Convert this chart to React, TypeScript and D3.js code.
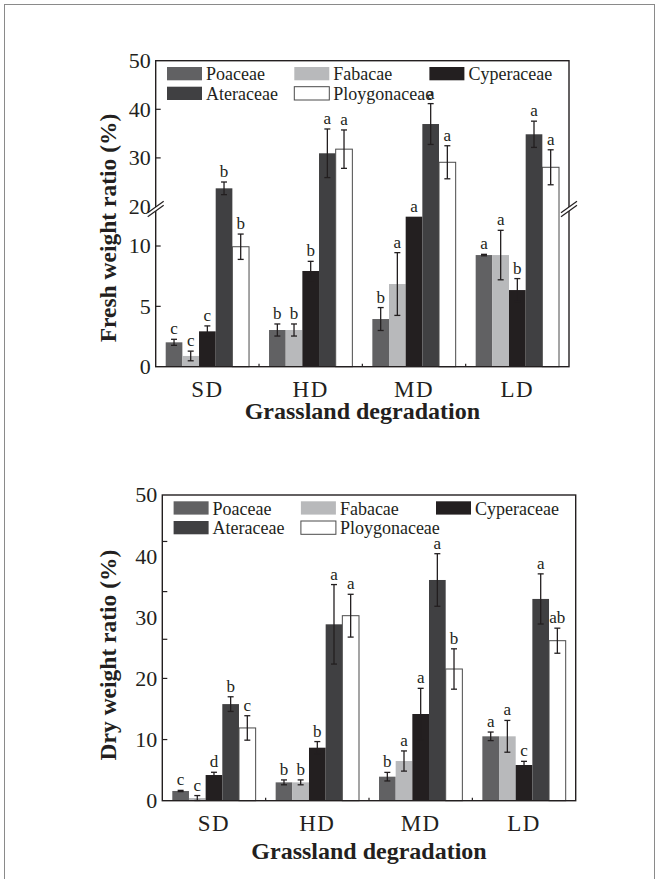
import React from "react";
import * as d3 from "d3";

const groups = ["SD", "HD", "MD", "LD"];
const families = ["Poaceae", "Fabacae", "Cyperaceae", "Ateraceae", "Ploygonaceae"];
const familyColors = ["#616163", "#b8b9bb", "#231f20", "#404042", "#ffffff"];

// Fresh weight ratio (%) — rows: families, cols: SD, HD, MD, LD
const freshMeans = [
  [2.02, 3.04, 3.95, 9.25],
  [0.89, 3.04, 6.85, 9.25],
  [2.93, 7.93, 12.43, 6.35],
  [23.74, 30.95, 36.97, 34.86],
  [9.94, 31.8, 29.1, 28.07],
];
const freshErrors = [
  [0.25, 0.5, 0.95, 0.06],
  [0.4, 0.5, 2.6, 2.05],
  [0.45, 0.8, 0, 0.95],
  [1.3, 5.0, 4.2, 2.7],
  [1.05, 3.95, 3.4, 3.6],
];
const freshLetters = [
  ["c", "b", "b", "a"],
  ["c", "b", "a", "a"],
  ["c", "b", "a", "b"],
  ["b", "a", "a", "a"],
  ["b", "a", "a", "a"],
];
const freshTickLabels = [0, 5, 10, 20, 30, 40, 50];
const freshTickMarks = [5, 10, 30, 40];

// Dry weight ratio (%)
const dryMeans = [
  [1.59, 3.0, 3.93, 10.53],
  [0.44, 3.0, 6.49, 10.53],
  [4.2, 8.67, 14.18, 5.84],
  [15.8, 28.85, 36.1, 33.0],
  [11.9, 30.26, 21.54, 26.17],
];
const dryErrors = [
  [0.1, 0.4, 0.7, 0.7],
  [0.4, 0.4, 1.65, 2.6],
  [0.45, 1.0, 4.2, 0.6],
  [1.2, 6.5, 4.3, 4.1],
  [2.0, 3.5, 3.3, 2.05],
];
const dryLetters = [
  ["c", "b", "b", "a"],
  ["c", "b", "a", "a"],
  ["d", "b", "a", "c"],
  ["b", "a", "a", "a"],
  ["c", "a", "b", "ab"],
];
const dryTickLabels = [0, 10, 20, 30, 40, 50];
const dryTickMarks = [10, 20, 26.4, 34.2, 42.4];

const FONT = "'Liberation Serif', 'Times New Roman', serif";
const INK = "#231f20";

type ChartProps = {
  left: number;
  right: number;
  top: number;
  bottom: number;
  y: d3.ScaleLinear<number, number>;
  means: number[][];
  errors: number[][];
  letters: string[][];
  tickLabels: number[];
  tickMarks: number[];
  yTitle: string;
  yTitleX: number;
  yTitleY: number;
  xTitleY: number;
  breakY?: number;
};

function Chart(p: ChartProps) {
  const x0 = d3.scaleBand<string>().domain(groups).range([p.left, p.right]).paddingInner(0).paddingOuter(0);
  const x1 = d3
    .scaleBand<string>()
    .domain(families)
    .range([0, x0.bandwidth()])
    .paddingInner(0)
    .paddingOuter(0.6);
  const bw = x1.bandwidth();
  const legendCols = [11.3, 138.6, 273.7];
  const legendRows = [6.3, 26];
  const legendItems = families.map((f, i) => ({
    f,
    i,
    col: i < 3 ? i : i - 3,
    row: i < 3 ? 0 : 1,
  }));
  const midX = (p.left + p.right) / 2;

  return (
    <g>
      {/* bars */}
      {families.map((f, fi) =>
        groups.map((g, gi) => {
          const v = p.means[fi][gi];
          const xb = (x0(g) as number) + (x1(f) as number);
          const yt = p.y(v);
          return (
            <rect
              key={f + g}
              x={xb}
              y={yt}
              width={bw}
              height={p.y(0) - yt}
              fill={familyColors[fi]}
              stroke={fi === 4 ? "#4a4a4a" : "none"}
              strokeWidth={fi === 4 ? 1 : 0}
            />
          );
        })
      )}
      {/* error bars and letters */}
      {families.map((f, fi) =>
        groups.map((g, gi) => {
          const v = p.means[fi][gi];
          const e = p.errors[fi][gi];
          const cx = (x0(g) as number) + (x1(f) as number) + bw / 2;
          const yTop = p.y(v + e);
          const yBot = p.y(Math.max(0, v - e));
          return (
            <g key={"e" + f + g}>
              {e > 0 && (
                <g stroke={INK} strokeWidth={1.3}>
                  <line x1={cx} x2={cx} y1={yTop} y2={yBot} />
                  <line x1={cx - 3} x2={cx + 3} y1={yTop} y2={yTop} />
                  <line x1={cx - 3} x2={cx + 3} y1={yBot} y2={yBot} />
                </g>
              )}
              <text
                x={cx}
                y={yTop - 5}
                textAnchor="middle"
                fontFamily={FONT}
                fontSize={17}
                fill={INK}
              >
                {p.letters[fi][gi]}
              </text>
            </g>
          );
        })
      )}
      {/* frame */}
      <rect
        x={p.left}
        y={p.top}
        width={p.right - p.left}
        height={p.bottom - p.top}
        fill="none"
        stroke={INK}
        strokeWidth={1.4}
      />
      {/* y tick marks */}
      {p.tickMarks.map((t) => (
        <line key={"tm" + t} x1={p.left} x2={p.left + 5} y1={p.y(t)} y2={p.y(t)} stroke={INK} strokeWidth={1.2} />
      ))}
      {/* x tick marks at group boundaries */}
      {groups.slice(1).map((g) => (
        <line
          key={"xt" + g}
          x1={x0(g) as number}
          x2={x0(g) as number}
          y1={p.bottom}
          y2={p.bottom - 3}
          stroke={INK}
          strokeWidth={1.2}
        />
      ))}
      {/* axis break */}
      {p.breakY !== undefined &&
        [p.left, p.right].map((bx) => (
          <g key={"br" + bx}>
            <polygon
              points={`${bx - 7},${p.breakY! + 4} ${bx + 7},${p.breakY! - 6} ${bx + 7},${p.breakY! - 2} ${bx - 7},${p.breakY! + 8}`}
              fill="#fff"
            />
            <line x1={bx - 8} y1={p.breakY! + 4.7} x2={bx + 8} y2={p.breakY! - 6.7} stroke={INK} strokeWidth={1.2} />
            <line x1={bx - 8} y1={p.breakY! + 8.7} x2={bx + 8} y2={p.breakY! - 2.7} stroke={INK} strokeWidth={1.2} />
          </g>
        ))}
      {/* y tick labels */}
      {p.tickLabels.map((t) => (
        <text
          key={"tl" + t}
          x={p.left - 5}
          y={p.y(t)}
          dy="0.34em"
          textAnchor="end"
          fontFamily={FONT}
          fontSize={22}
          fill={INK}
        >
          {t}
        </text>
      ))}
      {/* x labels */}
      {groups.map((g) => (
        <text
          key={"xl" + g}
          x={(x0(g) as number) + x0.bandwidth() / 2}
          y={p.bottom + 30}
          textAnchor="middle"
          fontFamily={FONT}
          fontSize={23}
          letterSpacing={1.5}
          fill={INK}
        >
          {g}
        </text>
      ))}
      <text
        x={midX}
        y={p.xTitleY}
        textAnchor="middle"
        fontFamily={FONT}
        fontSize={24}
        fontWeight="bold"
        fill={INK}
      >
        Grassland degradation
      </text>
      <text
        transform={`translate(${p.yTitleX},${p.yTitleY}) rotate(-90)`}
        textAnchor="middle"
        fontFamily={FONT}
        fontSize={23.5}
        fontWeight="bold"
        fill={INK}
      >
        {p.yTitle}
      </text>
      {/* legend */}
      {legendItems.map((it) => {
        const lx = p.left + legendCols[it.col];
        const ly = p.top + legendRows[it.row];
        return (
          <g key={"lg" + it.f}>
            <rect
              x={lx}
              y={ly}
              width={35}
              height={13.3}
              fill={familyColors[it.i]}
              stroke={it.i === 4 ? "#4a4a4a" : "none"}
              strokeWidth={it.i === 4 ? 1 : 0}
            />
            <text x={lx + 39} y={ly + 13.3} fontFamily={FONT} fontSize={18} fill={INK}>
              {it.f}
            </text>
          </g>
        );
      })}
    </g>
  );
}

export default function App() {
  const topY = d3.scaleLinear().domain([0, 13, 20, 50]).range([366.7, 209.8, 206.5, 60.7]);
  const botY = d3.scaleLinear().domain([0, 50]).range([800.7, 495]);
  return (
    <svg
      width={659}
      height={879}
      style={{ position: "absolute", left: 0, top: 0, background: "#fff" }}
    >
      <rect x={0} y={0} width={659} height={879} fill="#fff" />
      <rect x={4.5} y={4.5} width={650} height={890} fill="none" stroke="#8a8a8a" strokeWidth={1} />
      <Chart
        left={155.7}
        right={569}
        top={60.7}
        bottom={366.7}
        y={topY}
        means={freshMeans}
        errors={freshErrors}
        letters={freshLetters}
        tickLabels={freshTickLabels}
        tickMarks={freshTickMarks}
        yTitle="Fresh weight ratio (%)"
        yTitleX={116}
        yTitleY={228}
        xTitleY={419}
        breakY={208}
      />
      <Chart
        left={162.3}
        right={575.7}
        top={495}
        bottom={800.7}
        y={botY}
        means={dryMeans}
        errors={dryErrors}
        letters={dryLetters}
        tickLabels={dryTickLabels}
        tickMarks={dryTickMarks}
        yTitle="Dry weight ratio (%)"
        yTitleX={116}
        yTitleY={655}
        xTitleY={859}
      />
    </svg>
  );
}
